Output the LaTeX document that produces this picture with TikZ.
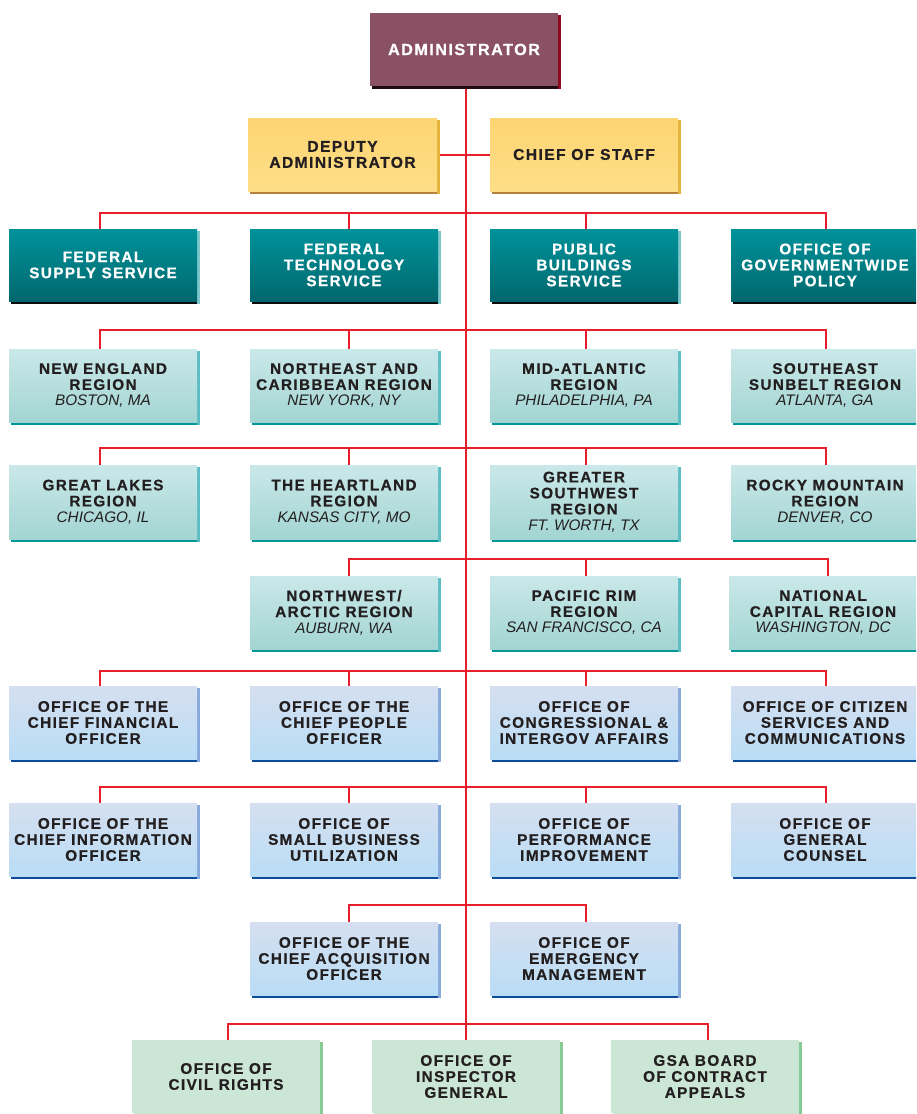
\documentclass[tikz,border=0pt]{standalone}
\usepackage{fontspec}
\newfontfamily\bfont[LetterSpace=9, BoldFeatures={FakeBold=0.7}]{Liberation Sans}
\newfontfamily\cfont{Liberation Sans}
\definecolor{linkred}{HTML}{E61E2D}
\definecolor{txt}{HTML}{231F20}
\definecolor{admF}{HTML}{8A5064}
\definecolor{admS}{HTML}{8E0A1E}
\definecolor{admB}{HTML}{1E0A0F}
\definecolor{yelT}{HTML}{FDD572}
\definecolor{yelB}{HTML}{FEDE88}
\definecolor{yelS}{HTML}{E3B33A}
\definecolor{yelBo}{HTML}{B5823A}
\definecolor{teaT}{HTML}{00929A}
\definecolor{teaB}{HTML}{00686E}
\definecolor{teaS}{HTML}{7CC6CC}
\definecolor{teaBo}{HTML}{0B0B0B}
\definecolor{minT}{HTML}{CAE8E9}
\definecolor{minB}{HTML}{A2D5D2}
\definecolor{minS}{HTML}{5DBCC4}
\definecolor{minBo}{HTML}{00989B}
\definecolor{bluT}{HTML}{D5DFF0}
\definecolor{bluB}{HTML}{B9DDF5}
\definecolor{bluS}{HTML}{88A9DB}
\definecolor{bluBo}{HTML}{0D4C98}
\definecolor{grnF}{HTML}{CBE6D5}
\definecolor{grnS}{HTML}{86CA96}
\pgfdeclarelayer{bg}
\pgfsetlayers{bg,main}
\newcommand\cty[1]{{\cfont\itshape\mdseries #1}}
\newcommand\obox[7]{%
  \fill[#2bot] ({#3+2},{#6}) rectangle ({#5+3},{#6+3});
  \fill[#2side] ({#5},{#4+2}) rectangle ({#5+3},{#6+3});
  \node[#2box, minimum width={(#5-#3)*1pt}, minimum height={(#6-#4)*1pt}] (#1) at ({(#3+#5)/2},{(#4+#6)/2}) {#7};
}
\tikzset{
  basebox/.style={inner sep=0pt, outer sep=0pt, align=center, text=txt,
    font=\bfont\bfseries\fontsize{15.3}{16}\selectfont},
  admbox/.style={basebox, fill=admF, text=white, font=\bfont\bfseries\fontsize{16.2}{17}\selectfont},
  admbot/.style={fill=admB}, admside/.style={fill=admS},
  yelbox/.style={basebox, top color=yelT, bottom color=yelB, font=\bfont\bfseries\fontsize{15.6}{16}\selectfont},
  yelbot/.style={fill=yelBo}, yelside/.style={fill=yelS},
  teabox/.style={basebox, top color=teaT, bottom color=teaB, text=white},
  teabot/.style={fill=teaBo}, teaside/.style={fill=teaS},
  minbox/.style={basebox, top color=minT, bottom color=minB},
  minbot/.style={fill=minBo}, minside/.style={fill=minS},
  blubox/.style={basebox, top color=bluT, bottom color=bluB},
  blubot/.style={fill=bluBo}, bluside/.style={fill=bluS},
  grnbox/.style={basebox, fill=grnF},
  grnbot/.style={fill=grnF}, grnside/.style={fill=grnS},
  link/.style={draw=linkred, line width=2pt}
}
\begin{document}
\begin{tikzpicture}[x=1pt,y=-1pt]
\useasboundingbox (0,0) rectangle (916,1114);
\clip (0,0) rectangle (916,1114);
% boxes
\obox{admin}{adm}{370}{13}{558}{86}{ADMINISTRATOR}
\obox{deputy}{yel}{248}{118}{437}{191}{DEPUTY\\ADMINISTRATOR}
\obox{chief}{yel}{490}{118}{678}{191}{CHIEF OF STAFF}
% row 1
\obox{r1a}{tea}{9}{229}{197}{301}{FEDERAL\\SUPPLY SERVICE}
\obox{r1b}{tea}{250}{229}{438}{301}{FEDERAL\\TECHNOLOGY\\SERVICE}
\obox{r1c}{tea}{490}{229}{678}{301}{PUBLIC\\BUILDINGS\\SERVICE}
\obox{r1d}{tea}{731}{229}{919}{301}{OFFICE OF\\GOVERNMENTWIDE\\POLICY}
% row 2
\obox{r2a}{min}{9}{349}{197}{422}{NEW ENGLAND\\REGION\\\cty{BOSTON, MA}}
\obox{r2b}{min}{250}{349}{438}{422}{NORTHEAST AND\\CARIBBEAN REGION\\\cty{NEW YORK, NY}}
\obox{r2c}{min}{490}{349}{678}{422}{MID-ATLANTIC\\REGION\\\cty{PHILADELPHIA, PA}}
\obox{r2d}{min}{731}{349}{919}{422}{SOUTHEAST\\SUNBELT REGION\\\cty{ATLANTA, GA}}
% row 3
\obox{r3a}{min}{9}{465}{197}{539}{GREAT LAKES\\REGION\\\cty{CHICAGO, IL}}
\obox{r3b}{min}{250}{465}{438}{539}{THE HEARTLAND\\REGION\\\cty{KANSAS CITY, MO}}
\obox{r3c}{min}{490}{465}{678}{539}{GREATER\\SOUTHWEST\\REGION\\\cty{FT. WORTH, TX}}
\obox{r3d}{min}{731}{465}{919}{539}{ROCKY MOUNTAIN\\REGION\\\cty{DENVER, CO}}
% row 4
\obox{r4b}{min}{250}{576}{438}{649}{NORTHWEST/\\ARCTIC REGION\\\cty{AUBURN, WA}}
\obox{r4c}{min}{490}{576}{678}{649}{PACIFIC RIM\\REGION\\\cty{SAN FRANCISCO, CA}}
\obox{r4d}{min}{729}{576}{917}{649}{NATIONAL\\CAPITAL REGION\\\cty{WASHINGTON, DC}}
% row 5
\obox{r5a}{blu}{9}{686}{197}{759}{OFFICE OF THE\\CHIEF FINANCIAL\\OFFICER}
\obox{r5b}{blu}{250}{686}{438}{759}{OFFICE OF THE\\CHIEF PEOPLE\\OFFICER}
\obox{r5c}{blu}{490}{686}{678}{759}{OFFICE OF\\CONGRESSIONAL \&\\INTERGOV AFFAIRS}
\obox{r5d}{blu}{731}{686}{919}{759}{OFFICE OF CITIZEN\\SERVICES AND\\COMMUNICATIONS}
% row 6
\obox{r6a}{blu}{9}{803}{197}{876}{OFFICE OF THE\\CHIEF INFORMATION\\OFFICER}
\obox{r6b}{blu}{250}{803}{438}{876}{OFFICE OF\\SMALL BUSINESS\\UTILIZATION}
\obox{r6c}{blu}{490}{803}{678}{876}{OFFICE OF\\PERFORMANCE\\IMPROVEMENT}
\obox{r6d}{blu}{731}{803}{919}{876}{OFFICE OF\\GENERAL\\COUNSEL}
% row 7
\obox{r7b}{blu}{250}{922}{438}{995}{OFFICE OF THE\\CHIEF ACQUISITION\\OFFICER}
\obox{r7c}{blu}{490}{922}{678}{995}{OFFICE OF\\EMERGENCY\\MANAGEMENT}
% row 8
\obox{r8a}{grn}{132}{1040}{320}{1113}{OFFICE OF\\CIVIL RIGHTS}
\obox{r8b}{grn}{372}{1040}{560}{1113}{OFFICE OF\\INSPECTOR\\GENERAL}
\obox{r8c}{grn}{611}{1040}{799}{1113}{GSA BOARD\\OF CONTRACT\\APPEALS}
% bus coordinates
\coordinate (t1a) at (100,213); \coordinate (t1b) at (349,213); \coordinate (t1c) at (586,213); \coordinate (t1d) at (826,213);
\coordinate (t2a) at (100,330); \coordinate (t2b) at (349,330); \coordinate (t2c) at (586,330); \coordinate (t2d) at (826,330);
\coordinate (t3a) at (100,448); \coordinate (t3b) at (349,448); \coordinate (t3c) at (586,448); \coordinate (t3d) at (826,448);
\coordinate (t4b) at (349,559); \coordinate (t4c) at (586,559); \coordinate (t4d) at (828,559);
\coordinate (t5a) at (100,671); \coordinate (t5b) at (349,671); \coordinate (t5c) at (586,671); \coordinate (t5d) at (826,671);
\coordinate (t6a) at (100,787); \coordinate (t6b) at (349,787); \coordinate (t6c) at (586,787); \coordinate (t6d) at (826,787);
\coordinate (t7b) at (349,905); \coordinate (t7c) at (586,905);
\coordinate (t8a) at (228,1024); \coordinate (t8b) at (466,1024); \coordinate (t8c) at (708,1024);
\begin{pgfonlayer}{bg}
\draw[link] (admin.south -| t8b) -- (t8b);
\draw[link] (deputy.east) -- (chief.west);
\foreach \r in {1,2,3,5,6}{
  \draw[link] (t\r a |- r\r a.north) -- (t\r a) -- (t\r d) -- (t\r d |- r\r d.north);
  \draw[link] (t\r b) -- (t\r b |- r\r b.north);
  \draw[link] (t\r c) -- (t\r c |- r\r c.north);
}
\draw[link] (t4b |- r4b.north) -- (t4b) -- (t4d) -- (t4d |- r4d.north);
\draw[link] (t4c) -- (t4c |- r4c.north);
\draw[link] (t7b |- r7b.north) -- (t7b) -- (t7c) -- (t7c |- r7c.north);
\draw[link] (t8a |- r8a.north) -- (t8a) -- (t8c) -- (t8c |- r8c.north);
\draw[link] (t8b) -- (r8b.north -| t8b);
\end{pgfonlayer}
\end{tikzpicture}
\end{document}
